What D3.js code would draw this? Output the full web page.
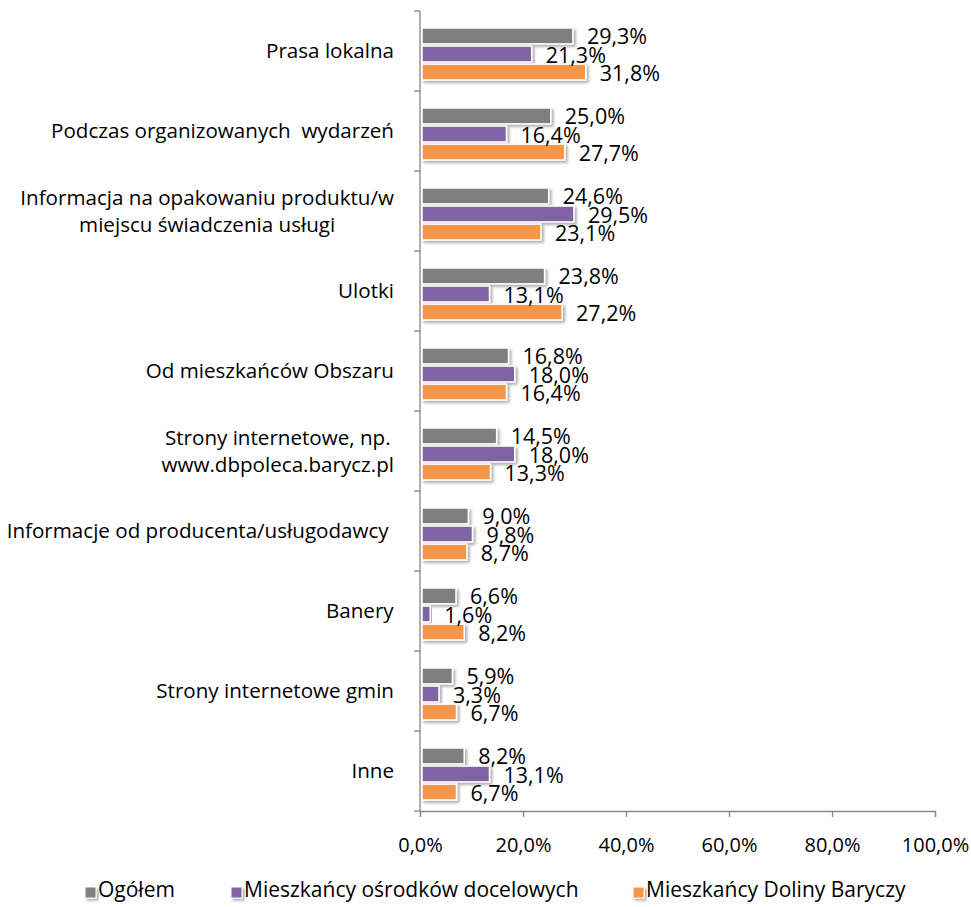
<!DOCTYPE html>
<html>
<head>
<meta charset="utf-8">
<script src="https://cdn.jsdelivr.net/npm/d3@7"></script>
<style>
  body { margin: 0; background: #fff; }
  svg text { font-family: "Open Sans", sans-serif; fill: #000; }
</style>
</head>
<body>
<svg id="chart" width="971" height="907"></svg>
<script>
// Source categories (top to bottom); "\n" splits a label over two lines
const categories = [
  "Prasa lokalna",
  "Podczas organizowanych  wydarzeń",
  "Informacja na opakowaniu produktu/w\nmiejscu świadczenia usługi",
  "Ulotki",
  "Od mieszkańców Obszaru",
  "Strony internetowe, np.\nwww.dbpoleca.barycz.pl",
  "Informacje od producenta/usługodawcy ",
  "Banery",
  "Strony internetowe gmin",
  "Inne"
];
const seriesNames = ["Ogółem", "Mieszkańcy ośrodków docelowych", "Mieszkańcy Doliny Baryczy"];
const seriesColors = ["#7f7f7f", "#8064a2", "#f79646"];
const ogolem     = [29.3, 25.0, 24.6, 23.8, 16.8, 14.5, 9.0, 6.6, 5.9, 8.2];
const osrodki    = [21.3, 16.4, 29.5, 13.1, 18.0, 18.0, 9.8, 1.6, 3.3, 13.1];
const dolina     = [31.8, 27.7, 23.1, 27.2, 16.4, 13.3, 8.7, 8.2, 6.7, 6.7];
const xTicks     = [0, 20, 40, 60, 80, 100];

const seriesValues = [ogolem, osrodki, dolina];
const fmt = v => v.toFixed(1).replace(".", ",") + "%";

const svg = d3.select("#chart");

const margin = { left: 420, right: 36, top: 11, bottom: 96 };
const W = 971, H = 907;

const x = d3.scaleLinear().domain([0, 100]).range([margin.left, W - margin.right]);
const y = d3.scaleBand().domain(d3.range(categories.length)).range([margin.top, H - margin.bottom]);
const inner = d3.scaleBand().domain(d3.range(3)).range([17, 69]).paddingInner(0.12);

// soft drop shadow under the bars
const defs = svg.append("defs");
const f = defs.append("filter").attr("id", "shadow")
  .attr("x", "-10%").attr("y", "-30%").attr("width", "130%").attr("height", "180%");
f.append("feDropShadow").attr("dx", 2).attr("dy", 2).attr("stdDeviation", 1.6)
  .attr("flood-color", "#000").attr("flood-opacity", 0.35);

// category axis line with separators between groups
const gY = svg.append("g");
gY.append("line").attr("x1", x(0)).attr("x2", x(0)).attr("y1", y.range()[0]).attr("y2", y.range()[1])
  .attr("stroke", "#868686").attr("stroke-width", 1.3);
gY.selectAll("line.tk").data(d3.range(0, categories.length + 1)).join("line")
  .attr("class", "tk")
  .attr("x1", x(0) - 6).attr("x2", x(0))
  .attr("y1", i => y.range()[0] + i * y.step())
  .attr("y2", i => y.range()[0] + i * y.step())
  .attr("stroke", "#868686").attr("stroke-width", 1.3);

// value axis
const xAxis = d3.axisBottom(x).tickValues(xTicks).tickSize(6)
  .tickFormat(d => d.toFixed(1).replace(".", ",") + "%");
const gX = svg.append("g").attr("transform", `translate(0,${y.range()[1]})`).call(xAxis);
gX.select(".domain").attr("stroke", "#868686").attr("stroke-width", 1.3);
gX.selectAll(".tick line").attr("stroke", "#868686").attr("stroke-width", 1.3);
gX.selectAll(".tick text").attr("y", 34).attr("dy", "0.35em").style("font-size", "20px")
  .style("font-family", "'Open Sans', sans-serif").attr("fill", "#000");

// bars and value labels
const rows = svg.append("g");
categories.forEach((c, i) => {
  const g = rows.append("g").attr("transform", `translate(0,${y(i)})`);
  seriesValues.forEach((vals, s) => {
    g.append("rect")
      .attr("x", x(0) + 2)
      .attr("y", inner(s))
      .attr("width", x(vals[i]) - x(0))
      .attr("height", inner.bandwidth())
      .attr("fill", seriesColors[s])
      .attr("stroke", "#fff").attr("stroke-width", 1.5)
      .attr("filter", "url(#shadow)");
  });
  seriesValues.forEach((vals, s) => {
    g.append("text")
      .attr("x", x(vals[i]) + 16)
      .attr("y", inner(s) + inner.bandwidth() / 2 + 1)
      .attr("dy", "0.35em")
      .style("font-size", "21.5px")
      .text(fmt(vals[i]));
  });
});

// category labels, right-aligned block, lines centred within it
const labels = svg.append("g");
categories.forEach((c, i) => {
  const lines = c.split("\n");
  const t = labels.append("text")
    .style("font-size", "20.6px")
    .attr("text-anchor", "middle")
    .attr("xml:space", "preserve");
  const cy = y(i) + y.bandwidth() / 2;
  const lh = 27;
  lines.forEach((ln, k) => {
    t.append("tspan").attr("x", 0)
      .attr("y", cy + (k - (lines.length - 1) / 2) * lh)
      .attr("dy", "0.35em").text(ln);
  });
  const bb = t.node().getBBox();
  t.attr("transform", `translate(${394 - bb.width / 2},0)`);
});

// legend
const legendItems = [
  { name: seriesNames[0], sx: 85 },
  { name: seriesNames[1], sx: 231 },
  { name: seriesNames[2], sx: 633 }
];
const lg = svg.append("g");
legendItems.forEach((d, s) => {
  lg.append("rect").attr("x", d.sx).attr("y", 887).attr("width", 11).attr("height", 11)
    .attr("fill", seriesColors[s]).attr("stroke", "#fff").attr("stroke-width", 1)
    .attr("filter", "url(#shadow)");
  lg.append("text").attr("x", d.sx + 13).attr("y", 890).attr("dy", "0.35em")
    .style("font-size", "21px").text(d.name);
});
</script>
</body>
</html>
